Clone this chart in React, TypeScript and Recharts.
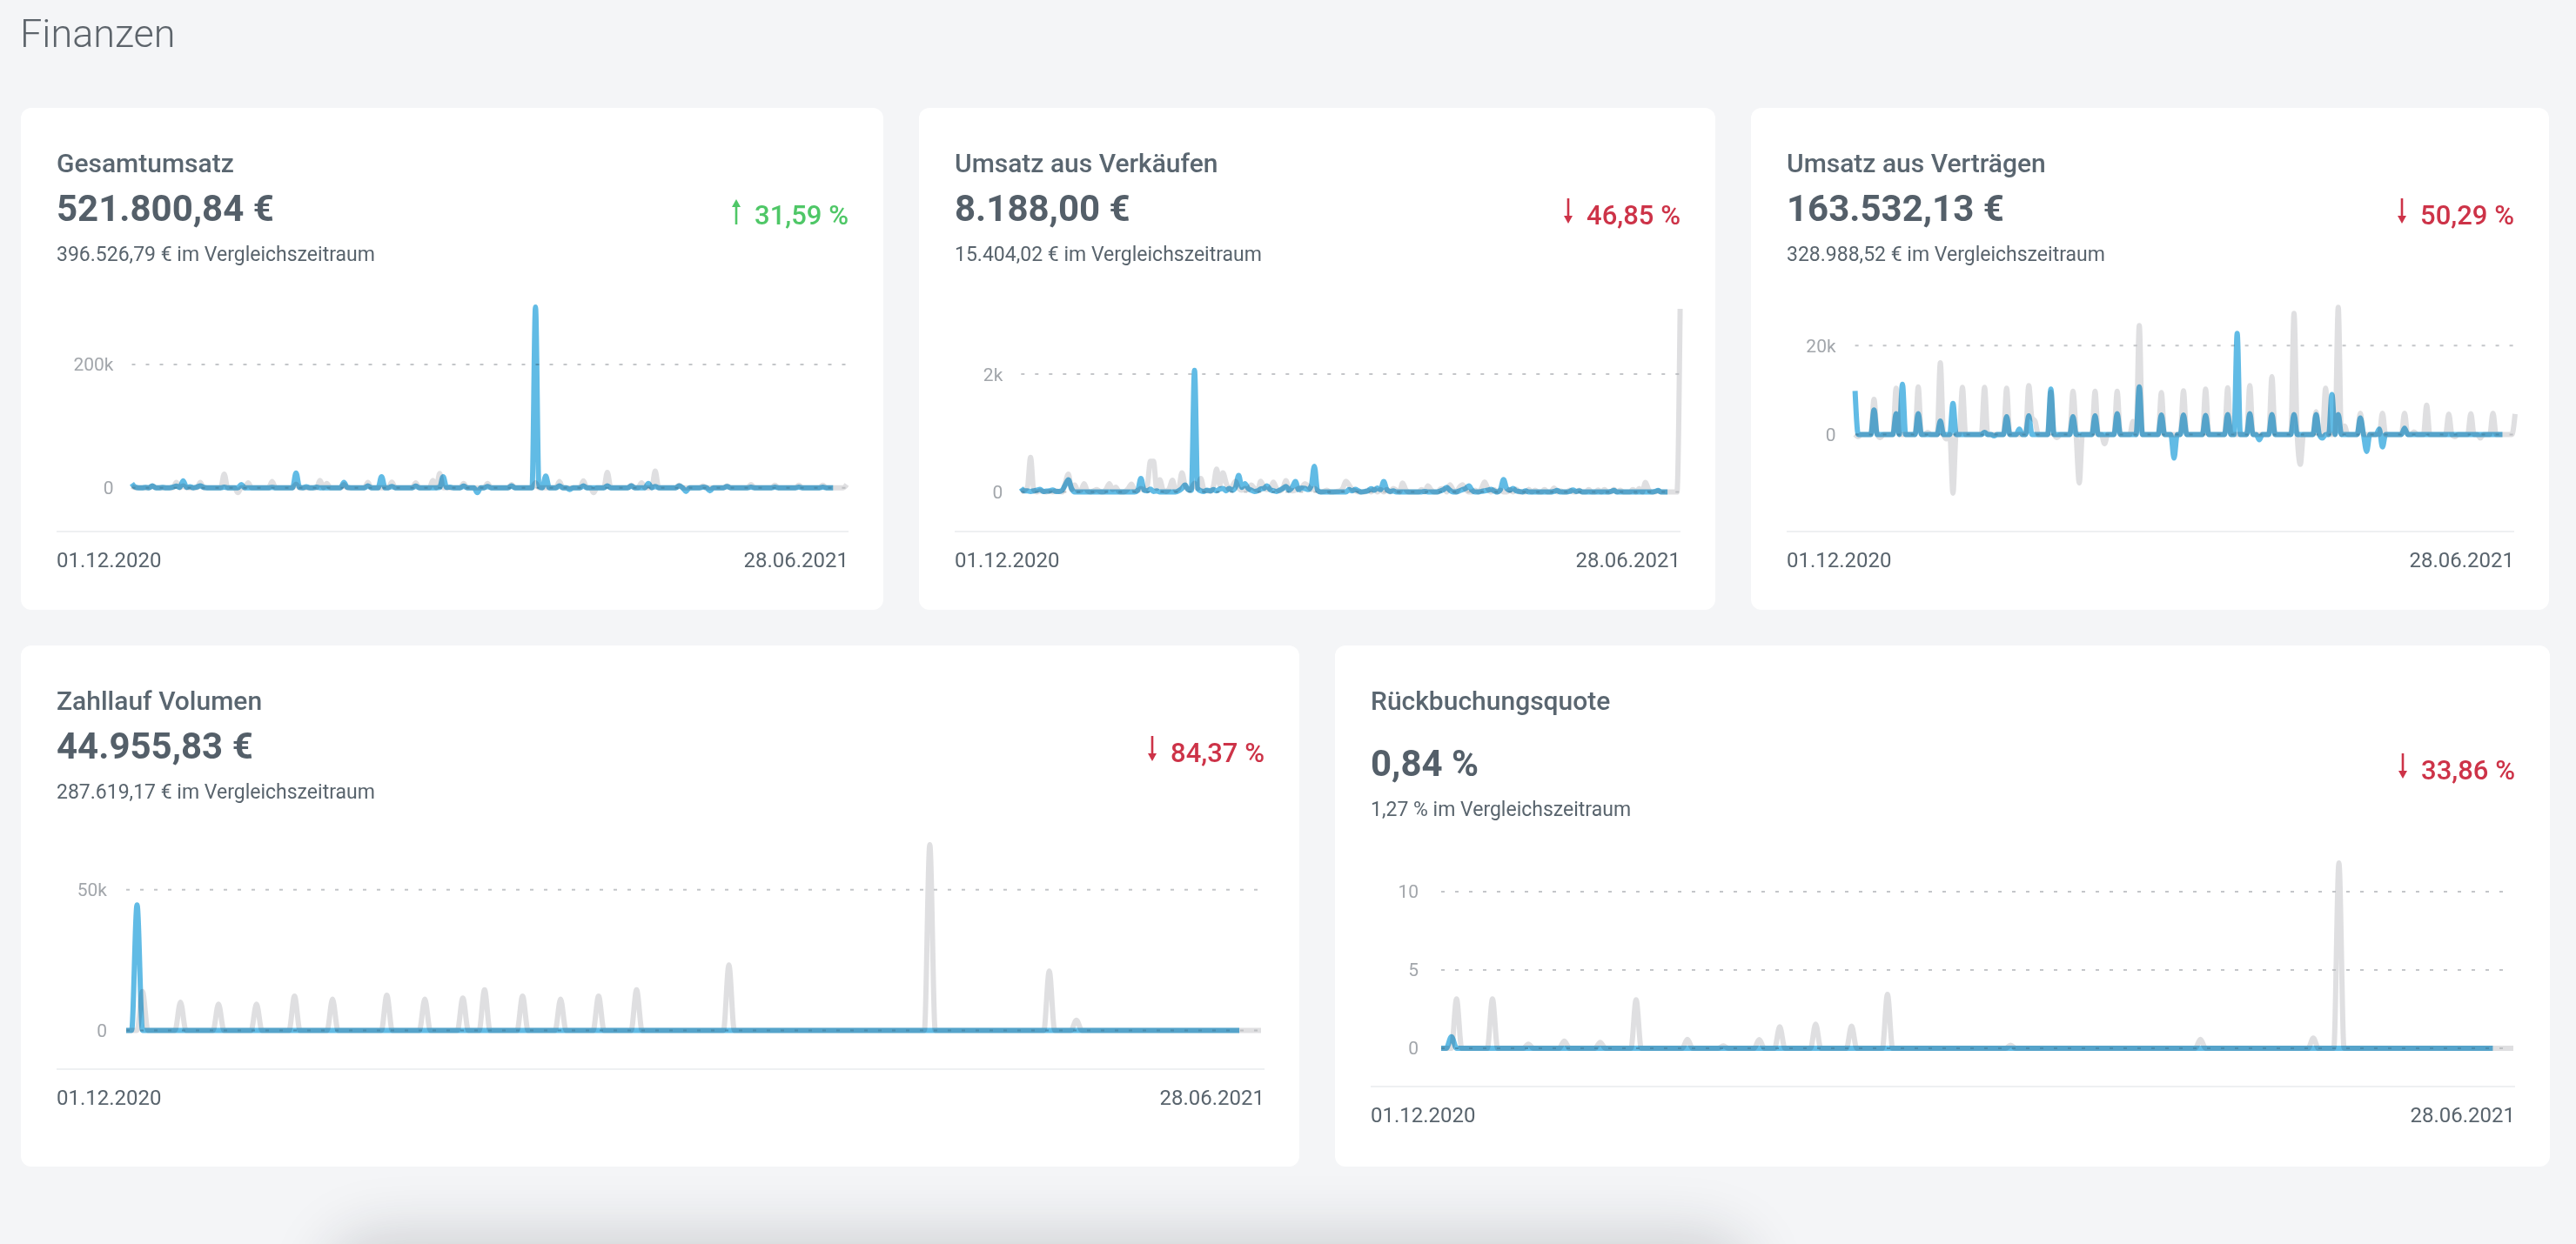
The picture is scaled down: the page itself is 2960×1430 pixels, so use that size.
import React from 'react';
import { LineChart, Line, XAxis, YAxis, CartesianGrid } from 'recharts';

// Daily values from 01.12.2020 to 28.06.2021, one row per week (Tue–Mon).
// "current" stops a few days before the period end, "previous" covers all 210 days.

// Gesamtumsatz, k€
const gesamtCurrent = [
  7, 1, 0, 0, 0.5, 0, 3,
  0, 0, 0.5, 0, 0, 1, 2.5,
  0.5, 11, 0.5, 1.5, 0, 1, 3,
  0.5, 0, 0, 0, 0, 0, 1,
  0, 0, 0, 0, 5, 0, 0,
  0, 0, 0, 0, 0, 0, 0.5,
  0, 0, 0, 0, 0, 0, 24,
  0.5, 0, 1.5, 0, 0, 1, 0,
  0, 0, 0, 0, 0, 0, 8.5,
  0.5, 0, 0, 0, 0, 0, 3,
  0, 0, 0, 18, 0, 0, 2,
  0, 0, 0, 0, 0, 0, 2.5,
  0, 0, 0, 0, 0, 0, 0.5,
  18, 0.5, 1, 0, 0, 0, 2.5,
  0, 0, 0, -8, 0, 0, 2,
  0, 0, 0, 0, 0, 0, 3,
  0, 0, 0, 0, 0, 0, 293,
  2, 0, 19, 0, 0, 0, 3,
  0, 0, -3, 0, 0, 0, 3,
  0, 0, 0, 0, 0, 0, 3,
  0, 0, 0, 0, 0, 0, 3,
  0, 0, 0, 0, 7, 0, 2,
  0, 0, 0, 0, 0, 0, 3,
  0, -6, 0, 0, 0, 0, 1,
  0, -5, 0, 0, 0, 0, 2,
  0, 0, 0, 0, 0, 0, 1,
  0, 0, 0, 0, 0, 0, 1,
  0, 0, 0, 0, 0, 0, 1,
  0, 0, 0, 0, 0, 0, 1,
  0, 0, 0,
];
const gesamtPrevious = [
  2, 0, 0, 0, 0, 0, 3,
  0, 0, 0, 0, 0, 0, 8.5,
  0, 3, 0, 0, 0, 0, 8.5,
  0, 0, 0, 0, 0, 0, 22,
  0, 0, 0, -8, 0, 0, 8,
  0, 0, 0, 0, 0, 0, 10,
  0, 0, 0, 0, 0, 0, 6,
  0, 0, 0, 0, 0, 0, 12,
  0, 7, 0, 0, 0, 0, 5,
  0, 0, 0, 0, 0, 0, 8.5,
  0, 0, 0, 0, 0, 0, 9,
  0, 0, 0, 0, 0, 0, 8,
  0, 0, 0, 0, 12, 0, 23,
  0, 0, 0, 0, 0, 0, 7,
  0, 0, 0, 0, 0, 0, 7,
  0, 0, 0, 0, 0, 0, 5,
  0, 0, 0, 0, 0, 0, 8,
  0, 0, 0, 0, 0, 0, 10,
  0, 0, 0, 0, 0, 0, 11,
  0, 0, -8, 0, 0, 0, 25,
  0, 0, 0, 0, 0, 0, 4,
  0, 0, 8, 0, 0, 0, 27,
  0, 0, 0, 0, 0, 0, 4,
  0, 0, 0, 0, 0, 0, 3,
  0, 0, 0, 0, 0, 0, 3,
  0, 0, 0, 0, 0, 0, 5,
  0, 0, 0, 0, 0, 0, 4,
  0, 0, 0, 0, 0, 0, 4,
  0, 0, 0, 0, 0, 0, 4,
  0, 0, 0, 0, 0, 0, 5,
];

// Umsatz aus Verkäufen, €
const verkaeufeCurrent = [
  69, 20, 20, 10, 20, 30, 45,
  10, 15, 20, 35, 10, 10, 30,
  120, 207, 60, 0, 0, 0, 0,
  0, 0, 0, 0, 0, 0, 0,
  0, 0, 0, 0, 0, 0, 0,
  0, 0, 30, 231, 30, 20, 50,
  10, 20, 0, 0, 0, 0, 0,
  0, 20, 60, 118, 40, 30, 2064,
  60, 20, 10, 30, 20, 40, 20,
  50, 60, 20, 60, 30, 80, 281,
  80, 143, 60, 30, 10, 20, 50,
  60, 103, 40, 20, 10, 30, 60,
  93, 30, 80, 177, 40, 69, 60,
  40, 100, 438, 30, 0, 0, 0,
  0, 0, 0, 0, 0, 0, 40,
  20, 45, 20, 0, 10, 20, 55,
  30, 69, 40, 177, 40, 10, 20,
  0, 0, 0, 0, 0, 0, 0,
  0, 0, 10, 0, 0, 0, 0,
  20, 40, 78, 30, 0, 0, 20,
  40, 60, 103, 30, 0, 0, 10,
  20, 30, 45, 20, 0, 40, 212,
  60, 30, 60, 20, 10, 0, 20,
  0, 0, 0, 0, 0, 0, 0,
  0, 10, 25, 0, 0, 0, 10,
  35, 10, 20, 0, 0, 0, 0,
  0, 0, 0, 0, 0, 10, 25,
  0, 0, 0, 0, 0, 0, 0,
  0, 0, 0, 0, 0, 10, 25,
  0, 0, 0,
];
const verkaeufePrevious = [
  0, 30, 80, 586, 40, 0, 20,
  10, 0, 10, 0, 20, 10, 0,
  150, 305, 40, 118, 20, 30, 140,
  20, 0, 20, 40, 10, 0, 50,
  143, 40, 83, 10, 0, 10, 60,
  133, 30, 20, 60, 30, 100, 520,
  520, 60, 207, 40, 10, 60, 200,
  30, 60, 325, 120, 40, 60, 150,
  60, 231, 40, 20, 10, 100, 389,
  120, 325, 160, 40, 100, 180, 60,
  30, 60, 40, 118, 60, 30, 182,
  80, 40, 60, 167, 60, 20, 60,
  192, 40, 20, 30, 60, 80, 143,
  100, 40, 60, 20, 0, 10, 30,
  0, 0, 10, 20, 60, 182, 120,
  40, 20, 0, 0, 0, 30, 0,
  50, 0, 40, 0, 40, 0, 60,
  30, 0, 153, 40, 0, 0, 0,
  0, 40, 0, 103, 40, 0, 0,
  50, 60, 0, 123, 40, 0, 80,
  123, 40, 0, 0, 30, 0, 60,
  172, 60, 0, 40, 0, 30, 0,
  0, 40, 0, 50, 0, 0, 0,
  45, 0, 30, 0, 0, 40, 0,
  0, 69, 0, 20, 0, 0, 30,
  0, 0, 30, 0, 0, 40, 0,
  0, 35, 0, 40, 0, 0, 45,
  0, 30, 0, 0, 0, 40, 0,
  60, 0, 163, 40, 0, 0, 20,
  0, 0, 0, 0, 0, 0, 3108,
];

// Umsatz aus Verträgen, k€
const vertraegeCurrent = [
  9.8, 0, 0, 0, 0, 0, 5.5,
  0, 0, 0, 0, 0, 0, 4.7,
  0, 11.3, 0, 0, 0, 0, 4.7,
  0, 0, 0, 0, 0, 0, 3,
  0, 0, 0, 7, 0, 0, 0,
  0, 0, 0, 0, 0, 0, 0.5,
  0, 0, -0.3, 0, 0, 0, 4,
  0, 0, 0, 1.2, 0, 0, 4.2,
  0, 0, 0, 0, 0, 0, 10.2,
  0, 0, 0, 0, 0, 0, 4,
  0, 0, 0, 0, 0, 0, 4.2,
  0, 0, 0, 0, 0, 0, 4.7,
  0, 0, 0, 0, 0, 0, 10.7,
  0, 0, 0, 0, 0, 0, 4.4,
  0, 0, 0, -5.3, 0, 0, 4.4,
  0, 0, 0, 0, 0, 0, 4.3,
  0, 0, 0, 0, 0, 0, 4.5,
  0, 0, 22.7, 0, 0, 0, 4.7,
  0, 0, -1.2, 0, 0, 0, 4.5,
  0, 0, 0, 0, 0, 0, 4.5,
  0, 0, 0, 0, 0, 0, 4.5,
  0, -0.8, 0, 0, 9, 0, 4.5,
  0, 0, 0, 0, 0, 0, 3.7,
  0, -3.8, 0, 0, 0, 1.2, -2.8,
  0, 0, 0, 0, 0, 0, 1.4,
  0, 0, 0, 0, 0, 0, 0,
  0, 0, 0, 0, 0, 0, 0,
  0, 0, 0, 0, 0, 0, 0,
  0, 0, 0, 0, 0, 0, 0,
  0, 0, 0,
];
const vertraegePrevious = [
  0, -0.5, 0, 0, 0, 0, 7.9,
  0, -0.7, 0, 0, 0, 0, 10.4,
  0, 0, 0, 0, 0, 0, 10.7,
  0, 0, 0.5, 0, 0, 0, 16.1,
  0, -1, 0, -13.2, 0, 0, 10.6,
  0, 0, 0, 0, 0, 0, 10.6,
  0, 0, 0, 0, 0, 0, 10.4,
  0, 0, 0, 0, 0, 0, 11,
  3.8, 3, 0, 0, 0, 0, 9.5,
  0, -0.7, 0, 0, 0, 0, 9.7,
  0, -10.9, 0, 0, 0, 0, 9.7,
  0, 0, -2.1, 0, 0, 0, 9.7,
  0, 0, 0, 0, 2.9, 0, 24.5,
  0, 0, 0, 0, 0, 0, 9.4,
  0, 0, 0, 0, 0, 0, 9.8,
  0, 0, 0, 0, 0, 0, 10.2,
  0, 0, 0, 0, 0, 0, 10.5,
  0, 0, 0, 0, 0, 0, 11,
  0, 0, 0, 0, 0, 0, 13,
  0, 0, 0, 0, 0, 0, 27.2,
  0, -6.7, 0, 0, 0, 0, 5.1,
  0, 0, 10.4, 0, 0, 0, 28.6,
  0, 1.9, 0, 0, 0, 0, 4.8,
  0, 0, 0, 0, 0, 0, 4.8,
  0, 0, 0, 0, 0, 0, 4.8,
  0, 0, 0.6, 0, 0, 0, 6.6,
  0, 0, 0, 0, 0, 0, 4.6,
  0, -0.5, 0, 0, 0, 0, 4.7,
  0, 0, -0.8, 0, 0, 0, 4.8,
  0, 0, 0, 0, 0, 0, 4.6,
];

// Zahllauf Volumen, k€ (two weeks per row)
const zahllaufCurrent = [
  0, 0, 44.6, 0, 0, 0, 0, 0, 0, 0, 0, 0, 0, 0,
  0, 0, 0, 0, 0, 0, 0, 0, 0, 0, 0, 0, 0, 0,
  0, 0, 0, 0, 0, 0, 0, 0, 0, 0, 0, 0, 0, 0,
  0, 0, 0, 0, 0, 0, 0, 0, 0, 0, 0, 0, 0, 0,
  0, 0, 0, 0, 0, 0, 0, 0, 0, 0, 0, 0, 0, 0,
  0, 0, 0, 0, 0, 0, 0, 0, 0, 0, 0, 0, 0, 0,
  0, 0, 0, 0, 0, 0, 0, 0, 0, 0, 0, 0, 0, 0,
  0, 0, 0, 0, 0, 0, 0, 0, 0, 0, 0, 0, 0, 0,
  0, 0, 0, 0, 0, 0, 0, 0, 0, 0, 0, 0, 0, 0,
  0, 0, 0, 0, 0, 0, 0, 0, 0, 0, 0, 0, 0, 0,
  0, 0, 0, 0, 0, 0, 0, 0, 0, 0, 0, 0, 0, 0,
  0, 0, 0, 0, 0, 0, 0, 0, 0, 0, 0, 0, 0, 0,
  0, 0, 0, 0, 0, 0, 0, 0, 0, 0, 0, 0, 0, 0,
  0, 0, 0, 0, 0, 0, 0, 0, 0, 0, 0, 0, 0, 0,
  0, 0, 0, 0, 0, 0, 0, 0, 0, 0,
];
const zahllaufPrevious = [
  0, 0, 0, 13.8, 0, 0, 0, 0, 0, 0, 10, 0, 0, 0,
  0, 0, 0, 9.3, 0, 0, 0, 0, 0, 0, 9.3, 0, 0, 0,
  0, 0, 0, 12.2, 0, 0, 0, 0, 0, 0, 11.1, 0, 0, 0,
  0, 0, 0, 0, 0, 0, 12.5, 0, 0, 0, 0, 0, 0, 11.1,
  0, 0, 0, 0, 0, 0, 11.5, 0, 0, 0, 14.4, 0, 0, 0,
  0, 0, 0, 12.2, 0, 0, 0, 0, 0, 0, 11.1, 0, 0, 0,
  0, 0, 0, 12.2, 0, 0, 0, 0, 0, 0, 14.4, 0, 0, 0,
  0, 0, 0, 0, 0, 0, 0, 0, 0, 0, 0, 0, 0, 23.2,
  0, 0, 0, 0, 0, 0, 0, 0, 0, 0, 0, 0, 0, 0,
  0, 0, 0, 0, 0, 0, 0, 0, 0, 0, 0, 0, 0, 0,
  0, 0, 0, 0, 0, 0, 0, 0, 66, 0, 0, 0, 0, 0,
  0, 0, 0, 0, 0, 0, 0, 0, 0, 0, 0, 0, 0, 0,
  0, 0, 21.1, 0, 0, 0, 0, 3.6, 0, 0, 0, 0, 0, 0,
  0, 0, 0, 0, 0, 0, 0, 0, 0, 0, 0, 0, 0, 0,
  0, 0, 0, 0, 0, 0, 0, 0, 0, 0, 0, 0, 0, 0,
];

// Rückbuchungsquote, %
const rueckCurrent = [
  0, 0, 0.73, 0, 0, 0, 0, 0, 0, 0, 0, 0, 0, 0,
  0, 0, 0, 0, 0, 0, 0, 0, 0, 0, 0, 0, 0, 0,
  0, 0, 0, 0, 0, 0, 0, 0, 0, 0, 0, 0, 0, 0,
  0, 0, 0, 0, 0, 0, 0, 0, 0, 0, 0, 0, 0, 0,
  0, 0, 0, 0, 0, 0, 0, 0, 0, 0, 0, 0, 0, 0,
  0, 0, 0, 0, 0, 0, 0, 0, 0, 0, 0, 0, 0, 0,
  0, 0, 0, 0, 0, 0, 0, 0, 0, 0, 0, 0, 0, 0,
  0, 0, 0, 0, 0, 0, 0, 0, 0, 0, 0, 0, 0, 0,
  0, 0, 0, 0, 0, 0, 0, 0, 0, 0, 0, 0, 0, 0,
  0, 0, 0, 0, 0, 0, 0, 0, 0, 0, 0, 0, 0, 0,
  0, 0, 0, 0, 0, 0, 0, 0, 0, 0, 0, 0, 0, 0,
  0, 0, 0, 0, 0, 0, 0, 0, 0, 0, 0, 0, 0, 0,
  0, 0, 0, 0, 0, 0, 0, 0, 0, 0, 0, 0, 0, 0,
  0, 0, 0, 0, 0, 0, 0, 0, 0, 0, 0, 0, 0, 0,
  0, 0, 0, 0, 0, 0, 0, 0, 0, 0,
];
const rueckPrevious = [
  0, 0, 0, 3.15, 0, 0, 0, 0, 0, 0, 3.15, 0, 0, 0,
  0, 0, 0, 0.27, 0, 0, 0, 0, 0, 0, 0.46, 0, 0, 0,
  0, 0, 0, 0.38, 0, 0, 0, 0, 0, 0, 3.1, 0, 0, 0,
  0, 0, 0, 0, 0, 0, 0.57, 0, 0, 0, 0, 0, 0, 0.15,
  0, 0, 0, 0, 0, 0, 0.55, 0, 0, 0, 1.38, 0, 0, 0,
  0, 0, 0, 1.54, 0, 0, 0, 0, 0, 0, 1.42, 0, 0, 0,
  0, 0, 0, 3.45, 0, 0, 0, 0, 0, 0, 0, 0, 0, 0,
  0, 0, 0, 0, 0, 0, 0, 0, 0, 0, 0, 0, 0, 0.2,
  0, 0, 0, 0, 0, 0, 0, 0, 0, 0, 0, 0, 0, 0,
  0, 0, 0, 0, 0, 0, 0, 0, 0, 0, 0, 0, 0, 0,
  0, 0, 0, 0, 0, 0, 0, 0, 0.57, 0, 0, 0, 0, 0,
  0, 0, 0, 0, 0, 0, 0, 0, 0, 0, 0, 0, 0, 0,
  0, 0, 0.65, 0, 0, 0, 0, 11.83, 0, 0, 0, 0, 0, 0,
  0, 0, 0, 0, 0, 0, 0, 0, 0, 0, 0, 0, 0, 0,
  0, 0, 0, 0, 0, 0, 0, 0, 0, 0, 0, 0, 0, 0,
];

const periodStart = '01.12.2020';
const periodEnd = '28.06.2021';

const FONT = 'Roboto, "Noto Sans", sans-serif';
const GREEN = '#4fc767';
const RED = '#cd3348';
const TEXT = '#59646d';

type CardSpec = {
  title: string;
  value: string;
  delta: string;
  up: boolean;
  compare: string;
  current: number[];
  previous: number[];
  ticks: number[];
  fmt: (v: number) => string;
  domain: [number, number];
  x: number;
  y: number;
  w: number;
  h: number;
  plotLeft: number;
  plotWidth: number;
  zeroY: number;
  ppu: number;
  tickGap: number;
  shift?: number;
};

const kFmt = (v: number) => (v === 0 ? '0' : `${v}k`);

const cards: CardSpec[] = [
  {
    title: 'Gesamtumsatz', value: '521.800,84 €', delta: '31,59 %', up: true,
    compare: '396.526,79 € im Vergleichszeitraum',
    current: gesamtCurrent, previous: gesamtPrevious,
    ticks: [0, 200], fmt: kFmt, domain: [-25, 310],
    x: 24, y: 124, w: 991, h: 577,
    plotLeft: 127.5, plotWidth: 821.5, zeroY: 436.7, ppu: 0.7085, tickGap: 21,
  },
  {
    title: 'Umsatz aus Verkäufen', value: '8.188,00 €', delta: '46,85 %', up: false,
    compare: '15.404,02 € im Vergleichszeitraum',
    current: verkaeufeCurrent, previous: verkaeufePrevious,
    ticks: [0, 2000], fmt: (v) => (v === 0 ? '0' : `${v / 1000}k`), domain: [-300, 3300],
    x: 1056, y: 124, w: 915, h: 577,
    plotLeft: 117.3, plotWidth: 757.3, zeroY: 442, ppu: 0.06775, tickGap: 21,
  },
  {
    title: 'Umsatz aus Verträgen', value: '163.532,13 €', delta: '50,29 %', up: false,
    compare: '328.988,52 € im Vergleichszeitraum',
    current: vertraegeCurrent, previous: vertraegePrevious,
    ticks: [0, 20], fmt: kFmt, domain: [-15, 30],
    x: 2012, y: 124, w: 917, h: 577,
    plotLeft: 119.6, plotWidth: 758.4, zeroY: 375.3, ppu: 5.115, tickGap: 22,
  },
  {
    title: 'Zahllauf Volumen', value: '44.955,83 €', delta: '84,37 %', up: false,
    compare: '287.619,17 € im Vergleichszeitraum',
    current: zahllaufCurrent, previous: zahllaufPrevious,
    ticks: [0, 50], fmt: kFmt, domain: [-5, 70],
    x: 24, y: 742, w: 1469, h: 599,
    plotLeft: 121, plotWidth: 1304, zeroY: 442.3, ppu: 3.234, tickGap: 22,
  },
  {
    title: 'Rückbuchungsquote', value: '0,84 %', delta: '33,86 %', up: false,
    compare: '1,27 % im Vergleichszeitraum',
    current: rueckCurrent, previous: rueckPrevious,
    ticks: [0, 5, 10], fmt: (v) => String(v), domain: [-1, 13],
    x: 1534, y: 742, w: 1396, h: 599,
    plotLeft: 122, plotWidth: 1232, zeroY: 462.7, ppu: 18, tickGap: 26, shift: 20,
  },
];

// top offset for a single line box so that its baseline lands on `base`
const topFor = (base: number, size: number) => base - size * 0.842;

const Arrow = ({ up, color }: { up: boolean; color: string }) => (
  <svg width={14} height={30} viewBox="0 0 14 30" style={{ marginBottom: -2 }}>
    {up ? (
      <>
        <path d="M7 30 V8" stroke={color} strokeWidth={2.6} />
        <path d="M2 10 L7 1 L12 10 Z" fill={color} />
      </>
    ) : (
      <>
        <path d="M7 0 V22" stroke={color} strokeWidth={2.6} />
        <path d="M2 20 L7 29 L12 20 Z" fill={color} />
      </>
    )}
  </svg>
);

const PAD = 12;

const KpiCard = ({ s }: { s: CardSpec }) => {
  const shift = s.shift ?? 0;
  const rows = s.previous.map((p, i) => ({
    day: i,
    previous: p,
    current: i < s.current.length ? s.current[i] : null,
  }));
  const plotTop = s.zeroY - s.domain[1] * s.ppu;
  const plotHeight = (s.domain[1] - s.domain[0]) * s.ppu;
  const line = (base: number, size: number): React.CSSProperties => ({
    position: 'absolute',
    top: topFor(base, size),
    fontSize: size,
    lineHeight: 1,
    whiteSpace: 'nowrap',
  });

  return (
    <div
      style={{
        position: 'absolute', left: s.x, top: s.y, width: s.w, height: s.h,
        background: '#ffffff', borderRadius: 12, color: TEXT,
      }}
    >
      <div style={{ ...line(74, 30), left: 41, fontWeight: 500, color: '#5a6670' }}>{s.title}</div>
      <div style={{ ...line(130 + shift, 42), left: 41, fontWeight: 700, color: '#545f69' }}>{s.value}</div>
      <div
        style={{
          ...line(130 + shift, 31), right: 40, fontWeight: 500,
          color: s.up ? GREEN : RED, display: 'flex', alignItems: 'baseline', gap: 14,
        }}
      >
        <Arrow up={s.up} color={s.up ? GREEN : RED} />
        <span>{s.delta}</span>
      </div>
      <div style={{ ...line(176 + shift, 23), left: 41 }}>{s.compare}</div>

      <div style={{ position: 'absolute', left: 0, top: plotTop - PAD }}>
        <LineChart
          width={s.plotLeft + s.plotWidth + PAD}
          height={plotHeight + 2 * PAD}
          data={rows}
          margin={{ top: PAD, right: PAD, bottom: PAD, left: 0 }}
        >
          <CartesianGrid
            horizontal
            vertical={false}
            horizontalValues={s.ticks}
            stroke="#c4c6c9"
            strokeWidth={2}
            strokeDasharray="4 12"
          />
          <XAxis dataKey="day" hide />
          <YAxis
            type="number"
            width={s.plotLeft}
            domain={s.domain}
            ticks={s.ticks}
            interval={0}
            tickFormatter={s.fmt}
            axisLine={false}
            tickLine={false}
            tickSize={0}
            tickMargin={s.tickGap}
            tick={{ fontSize: 21, fill: '#a2a6ab', fontFamily: FONT }}
          />
          <Line
            dataKey="previous"
            type="monotone"
            stroke="#b7b9bd"
            strokeOpacity={0.45}
            strokeWidth={6}
            dot={false}
            activeDot={false}
            isAnimationActive={false}
          />
          <Line
            className="current-line"
            dataKey="current"
            type="monotone"
            stroke="#45afe0"
            strokeOpacity={0.85}
            strokeWidth={6}
            dot={false}
            activeDot={false}
            isAnimationActive={false}
          />
        </LineChart>
      </div>

      <div style={{ position: 'absolute', left: 41, right: 40, top: 486 + shift, height: 2, background: '#eef0f2' }} />
      <div style={{ ...line(528 + shift, 24), left: 41 }}>{periodStart}</div>
      <div style={{ ...line(528 + shift, 24), right: 40 }}>{periodEnd}</div>
    </div>
  );
};

export default function App() {
  return (
    <div
      style={{
        position: 'fixed', left: 0, top: 0, width: 2960, height: 1430, overflow: 'hidden',
        background: '#f4f5f7', fontFamily: FONT,
      }}
    >
      <style>{'.current-line { mix-blend-mode: multiply; }'}</style>
      <div style={{ position: 'absolute', left: 23, top: topFor(54, 45), fontSize: 45, lineHeight: 1, fontWeight: 300, color: '#5d646b' }}>
        Finanzen
      </div>
      {cards.map((c) => (
        <KpiCard key={c.title} s={c} />
      ))}
      {/* next section peeking in under the fold */}
      <div
        style={{
          position: 'absolute', left: 408, top: 1450, width: 1572, height: 200, borderRadius: 24,
          background: '#f4f5f7', boxShadow: '0 0 70px 30px rgba(30,35,45,0.18)',
        }}
      />
    </div>
  );
}
